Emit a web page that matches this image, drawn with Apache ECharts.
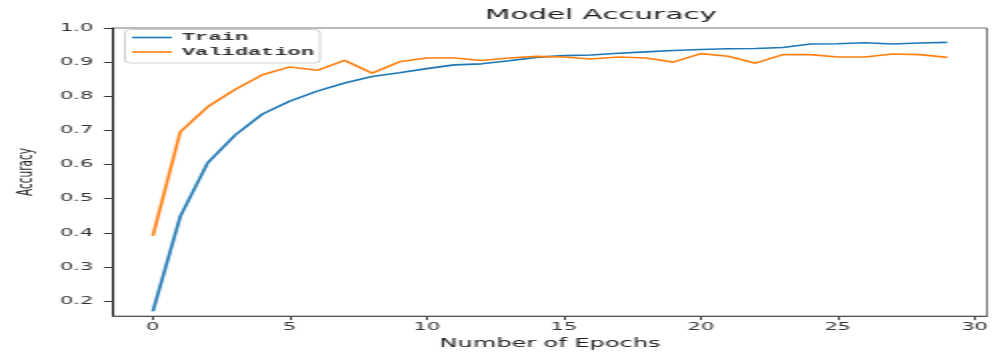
<!DOCTYPE html>
<html>
<head>
<meta charset="utf-8">
<script src="https://cdn.jsdelivr.net/npm/echarts@6/dist/echarts.min.js"></script>
<style>
html,body{margin:0;padding:0;background:#fff;overflow:hidden;width:994px;height:355px;}
#chart{width:497px;height:355px;transform:scaleX(2);transform-origin:0 0;}
</style>
</head>
<body>
<div id="chart"></div>
<script>
// Data
const epochs = [0,1,2,3,4,5,6,7,8,9,10,11,12,13,14,15,16,17,18,19,20,21,22,23,24,25,26,27,28,29];
const trainAcc = [0.170, 0.448, 0.605, 0.686, 0.748, 0.786, 0.815, 0.839, 0.858, 0.869,
                  0.881, 0.892, 0.895, 0.904, 0.914, 0.919, 0.921, 0.926, 0.930, 0.934,
                  0.937, 0.939, 0.940, 0.943, 0.953, 0.954, 0.957, 0.953, 0.956, 0.958];
const valAcc = [0.391, 0.696, 0.769, 0.820, 0.863, 0.886, 0.876, 0.905, 0.868, 0.901,
                0.912, 0.912, 0.905, 0.912, 0.917, 0.915, 0.909, 0.915, 0.912, 0.900,
                0.925, 0.917, 0.897, 0.922, 0.922, 0.915, 0.915, 0.924, 0.922, 0.914];
const xTicks = [0, 5, 10, 15, 20, 25, 30];
const yTicks = [0.2, 0.3, 0.4, 0.5, 0.6, 0.7, 0.8, 0.9, 1.0];
const titleText = 'Model Accuracy';
const xName = 'Number of Epochs';
const yName = 'Accuracy';
const seriesNames = ['Train', 'Validation'];

const chart = echarts.init(document.getElementById('chart'));
const font = 'DejaVu Sans';
chart.setOption({
  animation: false,
  backgroundColor: '#fff',
  title: {
    text: titleText,
    left: 300.5,
    top: 8,
    padding: 0,
    textAlign: 'center',
    textStyle: { fontFamily: font, fontSize: 14.7, fontWeight: 'normal', color: '#1a1a1a' }
  },
  legend: {
    orient: 'vertical',
    left: 62.5,
    top: 29.5,
    padding: [1, 3, 4, 3.5],
    itemGap: 0.5,
    icon: 'rect',
    itemWidth: 20,
    itemHeight: 1.6,
    backgroundColor: '#fff',
    borderColor: '#d0d0d0',
    borderWidth: 1,
    borderRadius: 3,
    textStyle: { fontFamily: 'Liberation Mono', fontSize: 11, fontWeight: 'bold', color: '#333', lineHeight: 14 },
    data: seriesNames
  },
  grid: {
    left: 55, top: 28, width: 443.25, height: 290,
    show: true, borderColor: '#777', borderWidth: 1, backgroundColor: 'transparent',
    containLabel: false
  },
  xAxis: {
    type: 'value',
    min: -1.45, max: 30.45,
    name: xName,
    nameLocation: 'middle',
    nameGap: 20,
    nameTextStyle: { fontFamily: font, fontSize: 12, color: '#222' },
    axisLine: { show: true, onZero: false, lineStyle: { color: '#555', width: 1 } },
    axisTick: { show: true, inside: false, length: 4, lineStyle: { color: '#444', width: 1 }, customValues: xTicks },
    axisLabel: { fontFamily: font, fontSize: 10.5, color: '#333', margin: 6, customValues: xTicks, formatter: v => String(v) },
    splitLine: { show: false }
  },
  yAxis: {
    type: 'value',
    min: 0.156, max: 1.0,
    name: yName,
    nameLocation: 'middle',
    nameRotate: 90,
    nameGap: 37,
    nameTextStyle: { fontFamily: font, fontSize: 10.5, color: '#222' },
    axisLine: { show: true, onZero: false, lineStyle: { color: '#111', width: 1 } },
    axisTick: { show: true, inside: false, length: 4.5, lineStyle: { color: '#333', width: 1 }, customValues: yTicks },
    axisLabel: { fontFamily: font, fontSize: 10.5, color: '#333', margin: 10, customValues: yTicks, formatter: v => v.toFixed(1) },
    splitLine: { show: false }
  },
  series: [
    {
      name: seriesNames[0], type: 'line', symbol: 'none',
      data: epochs.map((e, i) => [e, trainAcc[i]]),
      lineStyle: { color: '#1f77b4', width: 1.6 }, itemStyle: { color: '#1f77b4' }
    },
    {
      name: seriesNames[1], type: 'line', symbol: 'none',
      data: epochs.map((e, i) => [e, valAcc[i]]),
      lineStyle: { color: '#ff7f0e', width: 1.6 }, itemStyle: { color: '#ff7f0e' }
    }
  ]
});
</script>
</body>
</html>
